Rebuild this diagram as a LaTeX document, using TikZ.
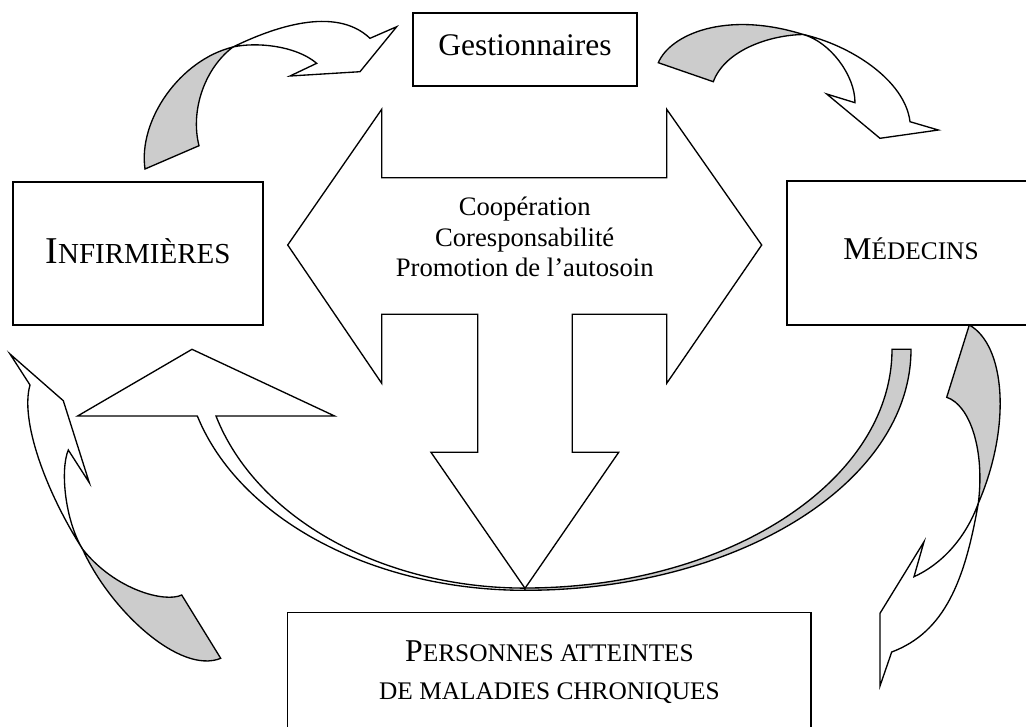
\documentclass[tikz,border=0pt]{standalone}
\usepackage{fontspec}
\setmainfont{Liberation Serif}
\definecolor{bandgray}{gray}{0.8}
\newcommand{\capBig}{\fontsize{23.8pt}{26pt}\selectfont}
\newcommand{\capSmall}{\fontsize{19pt}{22pt}\selectfont}
\newcommand{\infBig}{\fontsize{28.4pt}{30pt}\selectfont}
\newcommand{\infSmall}{\fontsize{21.75pt}{24pt}\selectfont}
\begin{document}
\begin{tikzpicture}[x=0.75pt,y=-0.75pt,
  outline/.style={draw=black, line width=1pt, line join=miter},
  whiteshape/.style={outline, fill=white},
  grayshape/.style={outline, fill=bandgray},
  boxnode/.style={draw=black, line width=1pt, fill=white, inner sep=0pt, text depth=0pt},
  txt/.style={inner sep=0pt, anchor=base}]
\useasboundingbox (0,0) rectangle (1026,726);
\clip (0,0) rectangle (1026,726);

% ---- boxes ----
\node[boxnode, minimum width=168pt, minimum height=54.75pt, text height=8.25pt]
  (gest) at (525,49.5) {\fontsize{23.6pt}{26pt}\selectfont Gestionnaires};
\node[boxnode, minimum width=187.5pt, minimum height=107.25pt, text height=14.7pt]
  (inf) at (138,253.5) {{\infBig I}{\infSmall NFIRMIÈRES}};
\node[boxnode, minimum width=186pt, minimum height=108pt, text height=9.45pt]
  (med) at (911,253) {{\capBig M}{\capSmall ÉDECINS}};
\node[boxnode, minimum width=392.8pt, minimum height=110.5pt]
  (pers) at (549.15,686.35) {};
\node[txt] (pers1) at (549.5,661.7) {{\capBig P}{\capSmall ERSONNES ATTEINTES}};
\node[txt] (pers2) at (549.5,699) {\capSmall DE MALADIES CHRONIQUES};

% ---- central left-right-down arrow ----
\draw[whiteshape] (287.7,245) -- (381.7,109.3) -- (381.7,177.7) -- (666.7,177.7)
  -- (666.7,109.3) -- (761.7,245) -- (666.7,383.3) -- (666.7,314.3) -- (572.3,314.3)
  -- (572.3,452.3) -- (618.7,452.3) -- (525,588.3) -- (431,452.3) -- (477.8,452.3)
  -- (477.8,314.3) -- (381.7,314.3) -- (381.7,383.3) -- cycle;
\node[txt] (t1) at (524.7,215) {\fontsize{20pt}{22pt}\selectfont Coopération};
\node[txt] (t2) at (524.7,246.5) {\fontsize{20pt}{22pt}\selectfont Coresponsabilité};
\node[txt] (t3) at (524.7,276) {\fontsize{20pt}{22pt}\selectfont Promotion de l’autosoin};

% ---- bottom curved arrow to the left (white) ----
\draw[whiteshape] (196.7,416) -- (77.6,416) -- (192,349.3) -- (334.6,416) -- (216,416)
  arc[start angle=163.8, end angle=90, x radius=321.8, y radius=238.7]
  -- (525,590.3)
  arc[start angle=90, end angle=163.9, x radius=341, y radius=241] -- cycle;

% ---- bottom gray band on the right ----
\draw[grayshape] (892,349.3) -- (911,349.3)
  arc[start angle=0, end angle=90, x radius=386, y radius=241]
  -- (525,588)
  arc[start angle=90, end angle=0, x radius=367, y radius=238.7] -- cycle;

% ---- top-left twisted arrow ----
\draw[grayshape] (145,169) -- (199,145.7) .. controls (190,110) and (205,68) .. (233,47)
  .. controls (180,60) and (138,120) .. (145,169) -- cycle;
\draw[whiteshape] (233,47) .. controls (272,28) and (335,5) .. (370,38.3)
  -- (396.7,26.7) -- (360,71.7) -- (290,76) -- (316.7,63.3)
  .. controls (295,45) and (255,42) .. (233,47) -- cycle;

% ---- top-right twisted arrow ----
\draw[grayshape] (658.3,62.7) .. controls (670,35) and (725,10) .. (803.3,34.5)
  .. controls (770,35) and (725,50) .. (713.3,81.7) -- cycle;
\draw[whiteshape] (803.3,34.5) .. controls (850,45) and (905,80) .. (910,121.7)
  -- (938.3,130) -- (880,138.3) -- (826.7,94) -- (855,102.7)
  .. controls (855,75) and (830,42) .. (803.3,34.5) -- cycle;

% ---- right twisted arrow ----
\draw[grayshape] (969.3,325) .. controls (1005,345) and (1012,425) .. (978.3,503.3)
  .. controls (985,450) and (970,405) .. (946.7,397.3) -- cycle;
\draw[whiteshape] (978.3,503.3) .. controls (965,540) and (940,565) .. (914,576.7)
  -- (924,541.7) -- (880,613.3) -- (880,686) -- (891.7,652)
  .. controls (945,632) and (965,580) .. (978.3,503.3) -- cycle;

% ---- left twisted arrow ----
\draw[grayshape] (181.7,595) .. controls (165,603) and (115,590) .. (82.5,549)
  .. controls (110,610) and (180,675) .. (220.7,658.3) -- cycle;
\draw[whiteshape] (82.5,549) .. controls (45,490) and (20,420) .. (30,385)
  -- (10,354) -- (63.3,400.7) -- (89.3,482.7) -- (68.3,450)
  .. controls (60,470) and (65,520) .. (82.5,549) -- cycle;
\end{tikzpicture}
\end{document}
